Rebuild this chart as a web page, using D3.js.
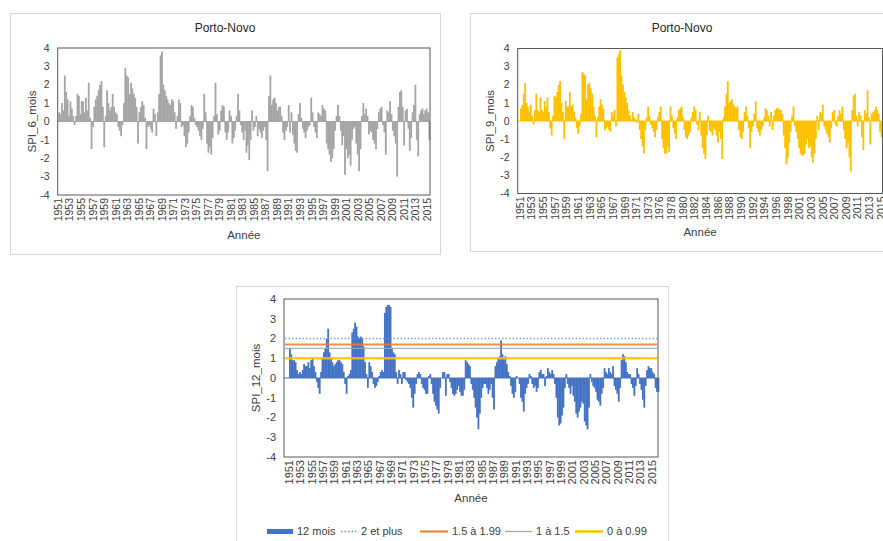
<!DOCTYPE html>
<html>
<head>
<meta charset="utf-8">
<script src="https://cdnjs.cloudflare.com/ajax/libs/d3/7.8.5/d3.min.js"></script>
<style>
    body { margin: 0; background: #ffffff; }
    svg text { font-family: "Liberation Sans", Arial, sans-serif; }
</style>
</head>
<body>
<svg id="chart" width="883" height="541"></svg>
<script>

// SPI 6 mois, valeurs relevées à pas régulier de 1951 à 2015
var spi6 = [
    0.5, 0.4, 1.0, 0.6, 2.5, 1.6, 1.2, 0.3, 1.1, 0.7,
    0.3, -0.2, 0.3, 1.5, 1.4, 0.4, 1.1, 1.1, 0.5, 1.3,
    0.6, 2.1, 0.2, -1.5, -0.3, 0.8, 1.2, 1.4, 1.7, 2.0,
    2.2, 0.8, -1.4, 0.3, 1.7, 1.0, 0.6, 0.8, 1.5, 0.8,
    0.5, 0.4, -0.3, -0.5, -0.8, -0.2, 1.0, 2.9, 2.5, 2.4,
    1.5, 2.1, 1.8, 1.5, 1.3, 0.8, -1.2, 0.5, 0.8, 1.1,
    0.9, 0.2, -1.5, -0.3, -0.2, -0.4, -0.6, 0.7, 0.4, -0.8,
    0.5, 1.5, 3.6, 3.8, 2.0, 1.7, 1.4, 1.2, 1.0, 0.9,
    1.2, 1.1, 0.5, -0.4, 0.3, 1.2, 1.0, -0.3, -0.2, -0.8,
    -1.4, -1.2, -0.6, 0.3, 0.9, 0.8, 0.2, -0.2, -0.3, -0.5,
    -0.8, -1.0, -0.4, 1.5, 0.5, -1.2, -1.7, -1.4, -1.8, -0.9,
    0.3, 2.1, 0.4, -0.7, -0.5, 0.6, 0.9, 0.8, -0.6, -1.0,
    -0.6, 0.6, 0.3, -1.2, -0.9, -0.5, 0.3, 1.5, 0.6, -0.2,
    -0.6, -1.0,
    -0.5, -1.7, -1.3, -2.1, -1.0, 0.6, -0.5, -0.3, 0.3, -0.8,
    -0.4, -0.6, -0.9, -0.5, -0.3, -1.0, -2.7, 1.4, 2.5, 0.9,
    1.2, 1.3, 1.0, 0.6, 0.8, 0.8, 0.3, -0.6, -1.0, -0.5,
    -0.3, 0.9, -0.6, 0.5, -0.7, -1.2, -1.6, -1.7, 0.4, 1.0,
    0.2, -0.4, -0.6, -0.9, -0.5, -0.3, -0.2, 1.3, 0.5, -0.3,
    -0.6, -0.9, 0.5, 0.4, 0.3, 0.9, 0.7, 0.6, -1.2, -1.5,
    -1.8, -2.2, -2.0, -1.5, -0.5, 0.3, 0.9, 0.3, -0.5, -1.3,
    -0.8, -2.9, -1.5, -2.0, -1.8, -2.4, -1.0, -0.4, -0.3, -1.2,
    -1.8, -2.7, -1.5, 0.3, 1.0, 0.4, 0.7, 0.3, -0.7, -0.5,
    -0.6, -1.0, -1.2, -1.5, -0.4, 0.5, 0.7, 0.8, -0.2, -0.6,
    -1.8, 0.6, 0.5, 1.1, 0.4, -0.5, -0.8, -1.2, -3.0, 0.8,
    1.6, 1.7, 0.8, -1.3, 0.6, 0.7, -0.4, -1.6, -0.9, 0.5,
    0.9, 2.0, -1.0, -1.9, 0.4, 0.6, 0.7, 0.4, 0.6, 0.7,
    0.5, -1.0
];

// SPI 9 mois
var spi9 = [
    0.7, 0.9, 1.5, 2.1, 1.0, 0.8, 0.5, 0.9, 0.3, -0.2,
    0.6, 1.5, 0.6, 0.5, 1.3, 0.6, 0.5, 1.1, 0.8, 1.3,
    0.5, -0.4, -0.8, 0.3, 1.4, 1.3, 1.6, 2.0, 2.2, 1.0,
    0.5, -1.0, 1.1, 0.8, 0.8, 1.6, 0.8, 0.9, 0.5, 0.2,
    -0.4, -0.7, -0.3, 0.4, 2.7, 2.6, 2.5, 1.2, 2.0, 2.1,
    1.8, 1.5, 0.8, 0.3, -0.9, 0.2, 0.8, 1.2, 0.9, 0.7,
    -0.5, -0.4, -0.3, -0.5, -0.6, 0.5, 0.3, 0.6, -0.3, 3.5,
    3.7, 3.9, 2.5, 2.0, 1.6, 1.3, 1.0, 0.6, 0.3, 0.1,
    0.5, 0.2, 0.1, -0.1, 0.4, -0.5, -1.0, -1.4, -1.8, -0.5,
    0.2, 0.8, 0.3, -0.2, -0.4, -0.6, -0.9, -0.5, 0.2, 0.5,
    0.8, -1.0, -1.5, -1.8, -1.8, -1.4, -1.7, 0.8, 0.3, -0.4,
    -0.7, -1.0, 0.2, 0.6, 0.7, 0.8, 0.2, -0.5, -0.9, -1.0,
    -0.8, -0.6, 0.2, 0.5, 0.8, 0.6, -0.2, -0.5, 0.5, -0.8,
    -1.5, -1.8, -2.1, -0.8, 0.3, -0.5, -0.6, -0.8, -0.4, -0.5,
    -0.8, -1.2, -0.6, -1.0, -2.1, 0.2, 0.8, 1.5, 2.2, 1.0,
    1.1, 1.2, 0.9, 0.8, 0.7, 0.8, -0.5, -0.9, -1.0, -0.6,
    0.5, 0.8, 0.3, -0.4, -1.5, -0.6, -0.3, 0.4, 1.1, -0.4,
    -0.6, -0.8, -0.5, -0.3, 0.2, 0.7, 0.6, 0.3, -0.3, 0.5,
    -0.5, 0.3, 0.6, 0.7, 0.7, 0.6, 0.6, 0.4, -0.8, -1.5,
    -2.4, -2.0, -1.2, -0.6, 0.3, 0.8, -0.3, -0.6, -1.0, -1.5,
    -1.8, -1.9, -1.9, -1.8, -1.3, -1.0, -1.5, -1.4, -2.0, -2.3,
    -1.8, -1.0, 0.3, -0.5, 0.5, 0.4, 0.9, -0.3, -0.5, -0.7,
    -0.9, -1.2, -0.4, 0.5, 0.6, -0.2, -0.3, 0.3, 0.6, 0.4,
    0.8, -0.5, -1.0, -1.5, -1.2, -2.0, -2.8, 0.6, 1.4, 1.5,
    0.3, -0.3, 0.5, 0.3, -0.9, -1.6, 0.6, 0.4, 1.7, 0.2,
    -1.3, 0.4, 0.5, 0.6, 0.8, 0.6, 0.4, -0.6, -0.9
];

// SPI 12 mois
var spi12 = [
    1.5, 1.2, 0.9, 0.9, 0.8, 0.4, 0.2, 0.3, 0.2, 0.4,
    0.7, 0.6, 0.6, 0.8, 0.5, 0.9, 1.0, 0.6, 0.3, -0.2,
    -0.5, -0.8, 0.3, 1.0, 1.3, 1.5, 2.0, 2.5, 1.3, 1.0,
    0.8, 0.6, 0.7, 0.8, 0.9, 0.9, 0.8, 0.7, 0.3, -0.3,
    -0.8, 0.1, 0.2, 0.4, 2.3, 2.5, 2.8, 2.6, 2.1, 2.0,
    2.1, 2.0, 1.6, 0.8, 0.2, -0.5, 0.8, 0.6, 0.3, -0.3,
    -0.5, -0.4, -0.2, 0.1, 0.3, 0.4, 0.3, 3.3, 3.6, 3.7,
    3.7, 3.6, 1.5, 1.3, 1.2, 0.3, -0.3, 0.4, 0.2, -0.3,
    0.3, 0.3, -0.1, -0.2, -0.3, -0.5, -1.0, -1.5, -0.8, -0.3,
    0.2, 0.3, 0.2, -0.3, -0.5, -0.6, -0.8, -0.8, 0.1, 0.2,
    -0.3, -0.8, -1.2, -1.4, -1.6, -1.8, -0.5, 0.0, 0.3, 0.3,
    -0.9, 0.2, 0.2, -0.2, -0.5, -0.8, -0.9, -0.8, -0.6, -0.4,
    -0.7, -0.9, -0.9, -0.6, 0.9, 0.8, 0.7, 0.6, -0.3, -0.6,
    -1.0, -1.5, -2.0, -2.6, -1.8, -1.0, -0.5, -0.3, -0.3, -0.5,
    -0.8, -0.6, -0.3, -1.0, -1.6, 0.6, 0.8, 1.0, 1.1, 1.9,
    1.2, 1.0, 1.1, 0.7, 0.3, 0.1, -0.4, -0.8, -1.0, -0.7,
    0.1, 0.0, -0.3, -1.0, -1.2, -1.7, -0.8, -0.5, -0.3, 0.2,
    0.1, -0.3, -0.5, -0.4, -0.7, -0.5, 0.3, 0.4, 0.2, 0.2,
    -0.4, 0.1, 0.5, 0.3, 0.2, 0.4, 0.2, -0.3, -1.0, -2.0,
    -2.4, -2.3, -1.9, -1.5, -0.5, 0.2, -0.3, -0.5, -0.8, -0.4,
    -0.9, -1.2, -1.8, -2.0, -1.7, -1.5, -1.2, -1.3, -2.2, -2.4,
    -2.6, -1.5, 0.2, -0.2, -0.4, -0.5, -0.7, -1.1, -1.2, -1.4,
    -0.8, -0.5, 0.5, 0.3, 0.2, 0.5, 0.3, 0.2, 0.6, -0.4,
    -0.6, -0.8, -1.2, -0.5, 0.9, 1.2, 1.1, 0.8, 0.3, 0.2,
    0.2, -0.3, -0.5, -0.9, -0.4, 0.5, 0.2, -0.3, -0.6, -1.1,
    -1.5, -0.4, 0.4, 0.6, 0.5, 0.5, 0.3, 0.2, -0.5, -0.7, -0.7
];

// étiquettes de l'axe des années
var anneesPas2 = ["1951", "1953", "1955", "1957", "1959", "1961", "1963", "1965", "1967", "1969",
    "1971", "1973", "1975", "1977", "1979", "1981", "1983", "1985", "1987", "1989",
    "1991", "1993", "1995", "1997", "1999", "2001", "2003", "2005", "2007", "2009",
    "2011", "2013", "2015"];
var anneesPas25mois = ["1951", "1953", "1955", "1957", "1959", "1961", "1963", "1965", "1967", "1969",
    "1971", "1973", "1976", "1978", "1980", "1982", "1984", "1986", "1988", "1990",
    "1992", "1994", "1996", "1998", "2001", "2003", "2005", "2007", "2009", "2011",
    "2013", "2015"];
var yTicks = [-4, -3, -2, -1, 0, 1, 2, 3, 4];

// seuils du graphique 12 mois
var seuilNoms = ["2 et plus", "1.5 à 1.99", "1 à 1.5", "0 à 0.99"];
var seuilValeurs = [2, 1.7, 1.5, 1];

var svg = d3.select("#chart");

drawPanel({
    frame: [10, 13, 430, 241],
    left: 57.7, right: 430, top: 48, bottom: 195,
    mois: [-1.2, 774], span: 774,
    values: spi6, color: "#a5a5a5",
    labels: anneesPas2, labelStep: 24,
    title: "Porto-Novo", titleX: 225, titleY: 32,
    yTitle: "SPI_6_mois", yTitleX: 32,
    anneeY: 239, tickSize: 10.5
});

drawPanel({
    frame: [470, 13, 424, 238],
    left: 517.7, right: 882.5, top: 48.5, bottom: 193.5,
    mois: [-5, 778], span: 777,
    values: spi9, color: "#ffc000",
    labels: anneesPas25mois, labelStep: 25,
    title: "Porto-Novo", titleX: 682, titleY: 32,
    yTitle: "SPI_9_mois", yTitleX: 490,
    anneeY: 236, tickSize: 10.5
});

var p12 = drawPanel({
    frame: [236, 286, 432, 262],
    left: 284, right: 658, top: 299, bottom: 457,
    mois: [-10.6, 781], span: 783,
    values: spi12, color: "#4472c4",
    labels: anneesPas2, labelStep: 24,
    yTitle: "SPI_12_mois", yTitleX: 256,
    anneeY: 502, tickSize: 11
});
drawSeuils(p12);

/**
 * Dessine un panneau de barres SPI
 * @param p configuration du panneau
 * @return les échelles et le groupe
 */
function drawPanel(p) {
    var g = svg.append("g");

    g.append("rect")
        .attr("x", p.frame[0] + 0.5)
        .attr("y", p.frame[1] + 0.5)
        .attr("width", p.frame[2])
        .attr("height", p.frame[3])
        .attr("fill", "#ffffff")
        .attr("stroke", "#d9d9d9");

    var x = d3.scaleLinear().domain(p.mois).range([p.left, p.right]);
    var y = d3.scaleLinear().domain([-4, 4]).range([p.bottom, p.top]);
    var step = p.span / p.values.length;

    var rows = p.values.map(function (v, i) {
        return {i: i, v: v};
    });

    g.append("line")
        .attr("x1", p.left)
        .attr("x2", p.right)
        .attr("y1", y(0))
        .attr("y2", y(0))
        .attr("stroke", p.color)
        .attr("stroke-width", 1);

    // les barres se recouvrent un peu pour éviter les coutures blanches
    g.append("g")
        .selectAll("rect")
        .data(rows)
        .enter()
        .append("rect")
        .attr("x", function (d) {
            return x(d.i * step)
        })
        .attr("width", function (d) {
            return x((d.i + 1) * step) - x(d.i * step) + 0.4
        })
        .attr("y", function (d) {
            return y(Math.max(0, d.v))
        })
        .attr("height", function (d) {
            return Math.abs(y(d.v) - y(0))
        })
        .attr("fill", p.color);

    // cadre de la zone de tracé
    g.append("rect")
        .attr("x", p.left)
        .attr("y", p.top)
        .attr("width", p.right - p.left)
        .attr("height", p.bottom - p.top)
        .attr("fill", "none")
        .attr("stroke", "#595959")
        .attr("stroke-width", 1);

    g.append("g")
        .selectAll("text")
        .data(yTicks)
        .enter()
        .append("text")
        .attr("x", p.left - 8)
        .attr("y", function (d) {
            return y(d)
        })
        .attr("dy", "0.35em")
        .attr("text-anchor", "end")
        .style("font-size", p.tickSize + "px")
        .attr("fill", "#404040")
        .text(function (d) {
            return d
        });

    g.append("g")
        .selectAll("text")
        .data(p.labels)
        .enter()
        .append("text")
        .attr("transform", function (d, k) {
            return "translate(" + x(k * p.labelStep) + "," + (p.bottom + 3) + ") rotate(-90)"
        })
        .attr("dy", "0.35em")
        .attr("text-anchor", "end")
        .style("font-size", p.tickSize + "px")
        .attr("fill", "#404040")
        .text(function (d) {
            return d
        });

    if (p.title) {
        g.append("text")
            .attr("x", p.titleX)
            .attr("y", p.titleY)
            .attr("text-anchor", "middle")
            .style("font-size", "12px")
            .attr("fill", "#262626")
            .text(p.title);
    }

    g.append("text")
        .attr("transform", "translate(" + p.yTitleX + "," + ((p.top + p.bottom) / 2) + ") rotate(-90)")
        .attr("dy", "0.35em")
        .attr("text-anchor", "middle")
        .style("font-size", "11.5px")
        .attr("fill", "#404040")
        .text(p.yTitle);

    g.append("text")
        .attr("x", (p.left + p.right) / 2)
        .attr("y", p.anneeY)
        .attr("text-anchor", "middle")
        .style("font-size", "11.5px")
        .attr("fill", "#404040")
        .text("Année");

    return {g: g, x: x, y: y, p: p};
}

/**
 * Lignes de seuil et légende du graphique 12 mois
 */
function drawSeuils(panel) {
    var styles = [
        {stroke: "#5b9bd5", width: 1.5, dash: "1.5,2"},
        {stroke: "#ed7d31", width: 2, dash: null},
        {stroke: "#a5a5a5", width: 1.2, dash: null},
        {stroke: "#ffc000", width: 2.5, dash: null}
    ];
    var p = panel.p;

    panel.g.append("g")
        .selectAll("line")
        .data(seuilValeurs)
        .enter()
        .append("line")
        .attr("x1", p.left + 1)
        .attr("x2", p.right - 1)
        .attr("y1", function (d) {
            return panel.y(d)
        })
        .attr("y2", function (d) {
            return panel.y(d)
        })
        .attr("stroke", function (d, i) {
            return styles[i].stroke
        })
        .attr("stroke-width", function (d, i) {
            return styles[i].width
        })
        .attr("stroke-dasharray", function (d, i) {
            return styles[i].dash
        })
        .attr("opacity", 0.85);

    // légende
    var items = [{nom: "12 mois", stroke: p.color, width: 5, dash: null, x1: 267, x2: 293}];
    var pos = [[341, 357], [420, 448], [505, 532], [575, 603]];
    seuilNoms.map(function (nom, i) {
        items.push({nom: nom, stroke: styles[i].stroke, width: styles[i].width, dash: styles[i].dash,
            x1: pos[i][0], x2: pos[i][1]});
    });

    var ly = 531.5;
    var leg = panel.g.append("g")
        .selectAll("g")
        .data(items)
        .enter()
        .append("g");

    leg.append("line")
        .attr("x1", function (d) {
            return d.x1
        })
        .attr("x2", function (d) {
            return d.x2
        })
        .attr("y1", ly)
        .attr("y2", ly)
        .attr("stroke", function (d) {
            return d.stroke
        })
        .attr("stroke-width", function (d) {
            return d.width
        })
        .attr("stroke-dasharray", function (d) {
            return d.dash
        });

    leg.append("text")
        .attr("x", function (d) {
            return d.x2 + 4
        })
        .attr("y", ly)
        .attr("dy", "0.35em")
        .style("font-size", "11px")
        .attr("fill", "#404040")
        .text(function (d) {
            return d.nom
        });
}
</script>
</body>
</html>
